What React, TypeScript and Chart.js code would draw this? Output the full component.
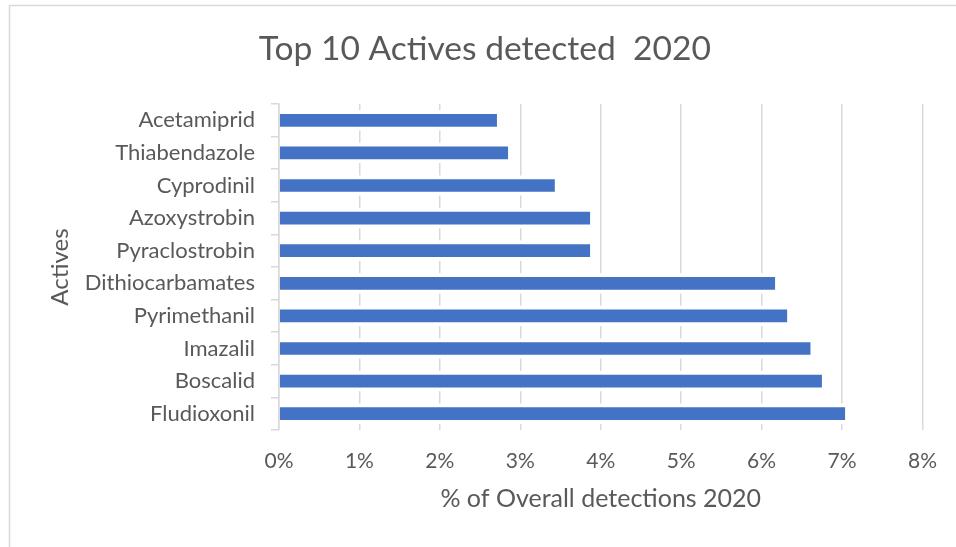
import React, { useEffect, useRef } from "react";
import { Chart, registerables } from "chart.js";

Chart.register(...registerables);

// Data (ranked, largest first; the y axis is reversed so the ranking reads bottom-up)
const categories = [
  "Fludioxonil",
  "Boscalid",
  "Imazalil",
  "Pyrimethanil",
  "Dithiocarbamates",
  "Pyraclostrobin",
  "Azoxystrobin",
  "Cyprodinil",
  "Thiabendazole",
  "Acetamiprid",
];
const detectionShare = [7.04, 6.75, 6.61, 6.32, 6.17, 3.87, 3.87, 3.43, 2.85, 2.71];
const xTickValues = [0, 1, 2, 3, 4, 5, 6, 7, 8];

const chartTitle = "Top 10 Actives detected  2020";
const xTitle = "% of Overall detections 2020";
const yTitle = "Actives";

const W = 956;
const H = 547;
const FONT = "Lato";
const TEXT = "#595959";
const GRID = "#d9d9d9";
const BAR = "#4472C4";

export default function App() {
  const ref = useRef<HTMLCanvasElement>(null);

  useEffect(() => {
    if (!ref.current) return;
    const framePlugin = {
      id: "frame",
      beforeDraw(chart: any) {
        const ctx = chart.ctx;
        ctx.save();
        ctx.fillStyle = "#ffffff";
        ctx.fillRect(0, 0, W, H);
        ctx.strokeStyle = GRID;
        ctx.lineWidth = 1.5;
        ctx.beginPath();
        ctx.moveTo(9.5, H + 5);
        ctx.lineTo(9.5, 5.5);
        ctx.lineTo(W + 5, 5.5);
        ctx.stroke();
        ctx.restore();
      },
    };

    const chart = new Chart(ref.current, {
      type: "bar",
      data: {
        labels: categories,
        datasets: [
          {
            data: detectionShare,
            backgroundColor: BAR,
            borderColor: "#ffffff",
            borderWidth: { top: 4, bottom: 4, left: 0, right: 0 },
            borderSkipped: false,
            barPercentage: 0.635,
            categoryPercentage: 1,
          },
        ],
      },
      options: {
        indexAxis: "y",
        responsive: false,
        animation: false,
        layout: { padding: { left: 45.6, right: 32, top: 0, bottom: 33.3 } },
        plugins: {
          legend: { display: false },
          tooltip: { enabled: false },
          title: {
            display: true,
            text: chartTitle,
            color: TEXT,
            font: { family: FONT, size: 33.6, weight: "normal" },
            padding: { top: 29.3, bottom: 34.4 },
          },
        },
        scales: {
          x: {
            type: "linear",
            position: "bottom",
            min: 0,
            max: 8,
            afterBuildTicks: (scale: any) => {
              scale.ticks = xTickValues.map((v) => ({ value: v }));
            },
            afterFit: (scale: any) => {
              scale.height = 83.7;
            },
            ticks: {
              color: TEXT,
              font: { family: FONT, size: 21 },
              padding: 19,
              callback: (v: any) => `${v}%`,
            },
            grid: { color: GRID, lineWidth: 1.5, drawTicks: false },
            border: { display: false },
            title: {
              display: true,
              text: xTitle,
              color: TEXT,
              font: { family: FONT, size: 25 },
              padding: 0,
            },
          },
          y: {
            position: "left",
            reverse: true,
            afterFit: (scale: any) => {
              scale.width = 233.4;
            },
            ticks: {
              color: TEXT,
              font: { family: FONT, size: 22 },
              padding: 16,
            },
            grid: {
              display: true,
              drawOnChartArea: false,
              drawTicks: true,
              tickLength: 8,
              offset: true,
              color: GRID,
              lineWidth: 1.5,
            },
            border: { display: true, color: GRID, width: 1.5 },
            title: {
              display: true,
              text: yTitle,
              color: TEXT,
              font: { family: FONT, size: 24 },
              padding: 0,
            },
          },
        },
      },
      plugins: [framePlugin],
    } as any);

    return () => chart.destroy();
  }, []);

  return (
    <canvas
      ref={ref}
      width={W}
      height={H}
      style={{ position: "fixed", left: 0, top: 0, width: W, height: H }}
    />
  );
}
